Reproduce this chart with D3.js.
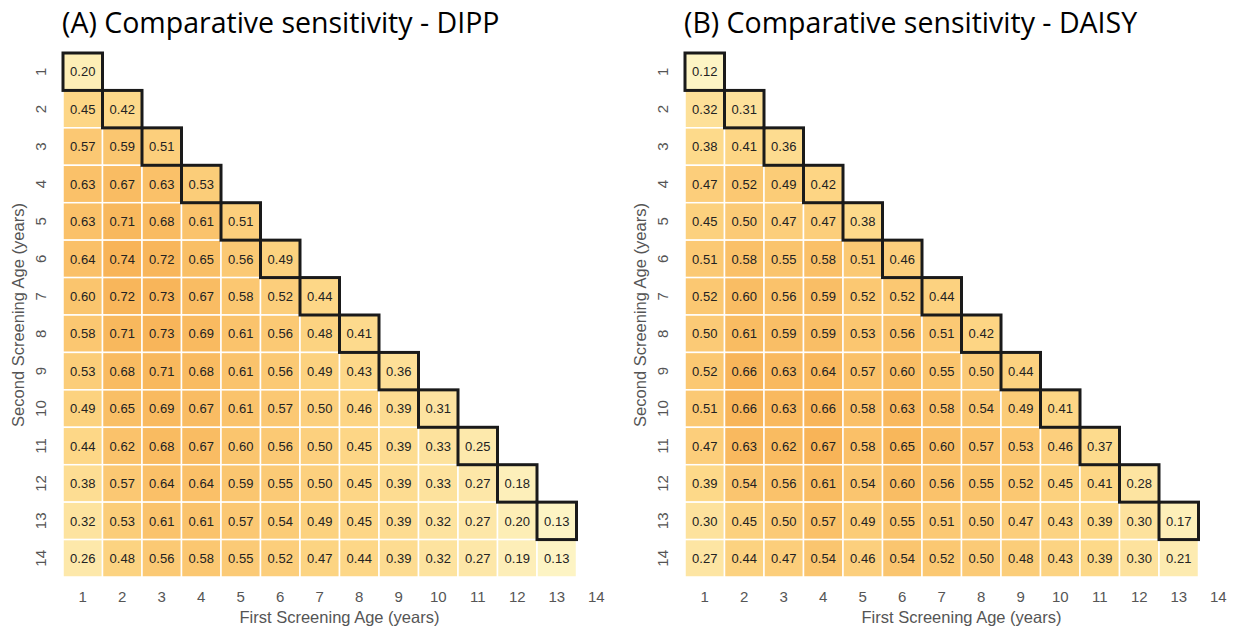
<!DOCTYPE html>
<html>
<head>
<meta charset="utf-8">
<script src="https://cdn.jsdelivr.net/npm/d3@7"></script>
<style>
    body { margin: 0; background: #fff; }
    svg { display: block; }
</style>
</head>
<body>
<script>
// ages on both axes
var ages = d3.range(1, 15);

// panel titles
var titles = ['(A) Comparative sensitivity - DIPP', '(B) Comparative sensitivity - DAISY'];

// DIPP: one row per second screening age, columns = first screening age
var dipp = [
    [0.20],
    [0.45, 0.42],
    [0.57, 0.59, 0.51],
    [0.63, 0.67, 0.63, 0.53],
    [0.63, 0.71, 0.68, 0.61, 0.51],
    [0.64, 0.74, 0.72, 0.65, 0.56, 0.49],
    [0.60, 0.72, 0.73, 0.67, 0.58, 0.52, 0.44],
    [0.58, 0.71, 0.73, 0.69, 0.61, 0.56, 0.48, 0.41],
    [0.53, 0.68, 0.71, 0.68, 0.61, 0.56, 0.49, 0.43, 0.36],
    [0.49, 0.65, 0.69, 0.67, 0.61, 0.57, 0.50, 0.46, 0.39, 0.31],
    [0.44, 0.62, 0.68, 0.67, 0.60, 0.56, 0.50, 0.45, 0.39, 0.33, 0.25],
    [0.38, 0.57, 0.64, 0.64, 0.59, 0.55, 0.50, 0.45, 0.39, 0.33, 0.27, 0.18],
    [0.32, 0.53, 0.61, 0.61, 0.57, 0.54, 0.49, 0.45, 0.39, 0.32, 0.27, 0.20, 0.13],
    [0.26, 0.48, 0.56, 0.58, 0.55, 0.52, 0.47, 0.44, 0.39, 0.32, 0.27, 0.19, 0.13]
];

// DAISY
var daisy = [
    [0.12],
    [0.32, 0.31],
    [0.38, 0.41, 0.36],
    [0.47, 0.52, 0.49, 0.42],
    [0.45, 0.50, 0.47, 0.47, 0.38],
    [0.51, 0.58, 0.55, 0.58, 0.51, 0.46],
    [0.52, 0.60, 0.56, 0.59, 0.52, 0.52, 0.44],
    [0.50, 0.61, 0.59, 0.59, 0.53, 0.56, 0.51, 0.42],
    [0.52, 0.66, 0.63, 0.64, 0.57, 0.60, 0.55, 0.50, 0.44],
    [0.51, 0.66, 0.63, 0.66, 0.58, 0.63, 0.58, 0.54, 0.49, 0.41],
    [0.47, 0.63, 0.62, 0.67, 0.58, 0.65, 0.60, 0.57, 0.53, 0.46, 0.37],
    [0.39, 0.54, 0.56, 0.61, 0.54, 0.60, 0.56, 0.55, 0.52, 0.45, 0.41, 0.28],
    [0.30, 0.45, 0.50, 0.57, 0.49, 0.55, 0.51, 0.50, 0.47, 0.43, 0.39, 0.30, 0.17],
    [0.27, 0.44, 0.47, 0.54, 0.46, 0.54, 0.52, 0.50, 0.48, 0.43, 0.39, 0.30, 0.21]
];

// init
var width      = 1234,
    height     = 632,
    plotTop    = 53,
    plotBottom = 577,
    cellW      = 39.5;

var panels = [
    { title: titles[0], rows: dipp,  left: 63 },
    { title: titles[1], rows: daisy, left: 685 }
];

var svg = d3.select('body')
    .append('svg')
    .attr('width', width)
    .attr('height', height);

/**
 * flatten rows into cells
 * @param {*} rows
 */
function toCells(rows) {
    var cells = [];
    rows.forEach(function (r, i) {
        r.forEach(function (v, j) {
            cells.push({ second: ages[i], first: ages[j], value: v, diag: i === j });
        });
    });
    return cells;
}

/**
 * draw one heatmap panel
 * @param {*} p
 */
function drawPanel(p) {
    var cells = toCells(p.rows);

    var xScale = d3.scaleBand().domain(ages).range([p.left, p.left + cellW * ages.length]);
    var yScale = d3.scaleBand().domain(ages).range([plotTop, plotBottom]);

    var ext = d3.extent(cells, d => d.value);
    var color = d3.scaleLinear()
        .domain([ext[0], (ext[0] + ext[1]) / 2, ext[1]])
        .range(['#fdf4c4', '#fdd888', '#f8b458'])
        .clamp(true);

    var g = svg.append('g');

    // cells
    g.append('g')
        .selectAll('rect')
        .data(cells)
        .join('rect')
        .attr('x', d => xScale(d.first))
        .attr('y', d => yScale(d.second))
        .attr('width', xScale.bandwidth())
        .attr('height', yScale.bandwidth())
        .attr('fill', d => color(d.value))
        .attr('stroke', '#fff')
        .attr('stroke-width', 1.5);

    // diagonal outline
    g.append('g')
        .selectAll('rect')
        .data(cells.filter(d => d.diag))
        .join('rect')
        .attr('x', d => xScale(d.first))
        .attr('y', d => yScale(d.second))
        .attr('width', xScale.bandwidth())
        .attr('height', yScale.bandwidth())
        .attr('fill', 'none')
        .attr('stroke', '#1a1a1a')
        .attr('stroke-width', 3);

    // values
    g.append('g')
        .selectAll('text')
        .data(cells)
        .join('text')
        .attr('x', d => xScale(d.first) + xScale.bandwidth() / 2)
        .attr('y', d => yScale(d.second) + yScale.bandwidth() / 2)
        .attr('dy', '0.36em')
        .attr('text-anchor', 'middle')
        .attr('font-family', 'Liberation Sans, Arial, sans-serif')
        .attr('font-size', 13)
        .attr('fill', '#222')
        .text(d => d3.format('.2f')(d.value));

    // x-axis
    var xAxis = g.append('g')
        .attr('transform', 'translate(0,' + (plotBottom + 10) + ')')
        .call(d3.axisBottom(xScale).tickSize(0).tickPadding(4));
    xAxis.select('.domain').remove();
    xAxis.selectAll('text')
        .attr('font-family', 'Liberation Sans, Arial, sans-serif')
        .attr('font-size', 15)
        .attr('fill', '#555');

    // y-axis with rotated labels
    var yAxis = g.append('g')
        .attr('transform', 'translate(' + (p.left - 22) + ',0)')
        .call(d3.axisLeft(yScale).tickSize(0).tickPadding(0));
    yAxis.select('.domain').remove();
    yAxis.selectAll('.tick text')
        .attr('font-family', 'Liberation Sans, Arial, sans-serif')
        .attr('font-size', 15)
        .attr('fill', '#555')
        .attr('text-anchor', 'middle')
        .attr('x', 0)
        .attr('y', 5)
        .attr('dy', 0)
        .attr('transform', 'rotate(-90)');

    // axis titles
    g.append('text')
        .attr('x', p.left + cellW * ages.length / 2)
        .attr('y', 623)
        .attr('text-anchor', 'middle')
        .attr('font-family', 'Liberation Sans, Arial, sans-serif')
        .attr('font-size', 16.5)
        .attr('fill', '#555')
        .text('First Screening Age (years)');

    g.append('text')
        .attr('transform', 'translate(' + (p.left - 39) + ',' + ((plotTop + plotBottom) / 2) + ') rotate(-90)')
        .attr('text-anchor', 'middle')
        .attr('font-family', 'Liberation Sans, Arial, sans-serif')
        .attr('font-size', 16.5)
        .attr('fill', '#555')
        .text('Second Screening Age (years)');

    // panel title
    g.append('text')
        .attr('x', p.left - 1)
        .attr('y', 33)
        .attr('font-family', 'Open Sans, sans-serif')
        .attr('font-size', 28.5)
        .attr('fill', '#000')
        .text(p.title);
}

panels.forEach(drawPanel);
</script>
</body>
</html>
